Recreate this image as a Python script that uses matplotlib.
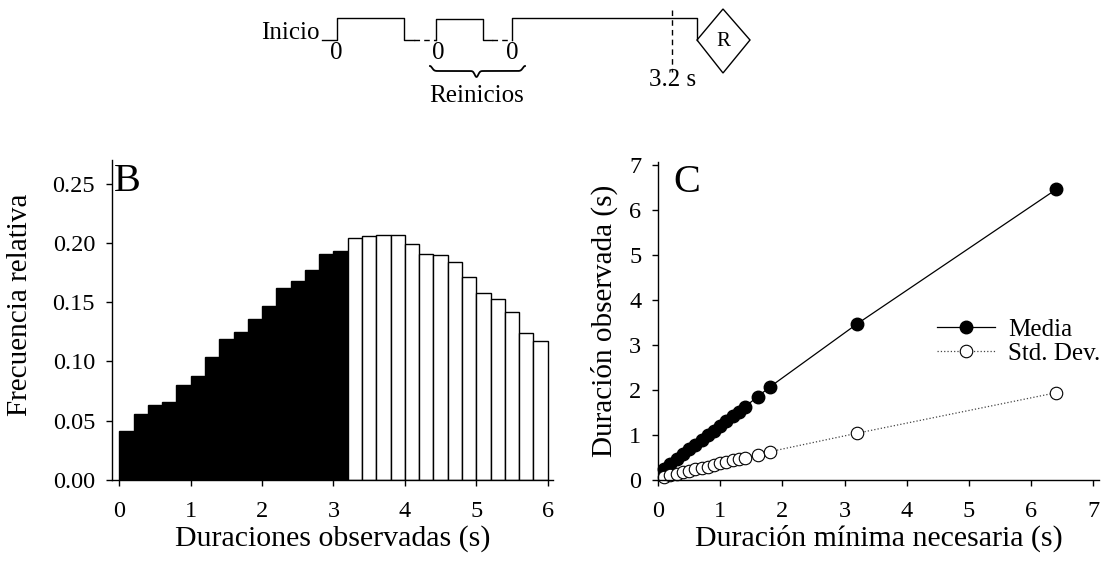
import numpy as np
import matplotlib
matplotlib.use("Agg")
import matplotlib.pyplot as plt
from matplotlib.patches import Polygon

plt.rcParams["font.family"] = ["Liberation Serif", "DejaVu Serif"]

# --- datos panel B (histograma, bins de 0.2 s) ---
bin_izq = [0.0, 0.2, 0.4, 0.6, 0.8, 1.0, 1.2, 1.4, 1.6, 1.8, 2.0, 2.2, 2.4, 2.6, 2.8, 3.0,
           3.2, 3.4, 3.6, 3.8, 4.0, 4.2, 4.4, 4.6, 4.8, 5.0, 5.2, 5.4, 5.6, 5.8]
frecuencia = [0.041, 0.056, 0.063, 0.066, 0.080, 0.088, 0.104, 0.119, 0.125, 0.136,
              0.147, 0.162, 0.168, 0.177, 0.191, 0.193,
              0.204, 0.206, 0.207, 0.207, 0.199, 0.191, 0.190, 0.184, 0.171, 0.158,
              0.153, 0.142, 0.124, 0.117]
umbral = 3.2

# --- datos panel C ---
dur_min = [0.1, 0.2, 0.3, 0.4, 0.5, 0.6, 0.7, 0.8, 0.9, 1.0, 1.1, 1.2, 1.3, 1.4,
           1.6, 1.8, 3.2, 6.4]
media = [0.25, 0.36, 0.47, 0.57, 0.68, 0.78, 0.89, 1.00, 1.10, 1.21, 1.31, 1.42, 1.52, 1.63,
         1.85, 2.07, 3.47, 6.46]
std_dev = [0.07, 0.11, 0.14, 0.17, 0.21, 0.24, 0.27, 0.30, 0.34, 0.37, 0.40, 0.44, 0.47, 0.50,
           0.56, 0.63, 1.04, 1.94]

W, H = 1101, 567
fig = plt.figure(figsize=(W / 100, H / 100), dpi=100)

def caja(x0, y0, x1, y1):
    # pixeles (arriba-izquierda) -> fraccion de figura
    return [x0 / W, 1 - y1 / H, (x1 - x0) / W, (y1 - y0) / H]

def estilo(ax):
    for s in ["top", "right"]:
        ax.spines[s].set_visible(False)
    for s in ["left", "bottom"]:
        ax.spines[s].set_linewidth(1.0)
    ax.tick_params(direction="out", length=4, width=1, labelsize=17.5)
    ax.tick_params(axis="x", pad=11)
    ax.tick_params(axis="y", pad=8)

# ---- esquema superior ----
esq = fig.add_axes([0, 0, 1, 1])
esq.set_xlim(0, W); esq.set_ylim(H, 0); esq.axis("off")
k = dict(color="black", lw=1)
bajo, alto = 40, 18
esq.plot([322, 337, 337, 404, 404, 414], [bajo, bajo, alto, alto, bajo, bajo], **k)
esq.plot([414, 436], [bajo, bajo], ls=(0, (4, 3)), **k)
esq.plot([436, 436, 483, 483, 492], [bajo, alto + 1, alto + 1, bajo, bajo], **k)
esq.plot([492, 512], [bajo, bajo], ls=(0, (4, 3)), **k)
esq.plot([512, 512, 697, 697], [bajo, alto, alto, bajo], **k)
esq.add_patch(Polygon([[697, 40], [723, 9], [750, 40], [723, 73]], closed=True,
                      fill=False, ec="black", lw=1))
esq.text(723, 42, "R", ha="center", va="center", fontsize=15)
esq.plot([672, 672], [10, 72], color="black", lw=1, ls=(0, (4, 3)))
esq.text(320, 33, "Inicio", ha="right", va="center", fontsize=18)
for xc in [336, 438, 512]:
    esq.text(xc, 53, "0", ha="center", va="center", fontsize=18)
esq.text(673, 80, "3.2 s", ha="center", va="center", fontsize=18)
# llave
bx = np.linspace(430, 525, 200)
tip = 476.5
yb = 71 - 5 * np.exp(-((bx - 430) / 3) ** 2) - 5 * np.exp(-((bx - 525) / 3) ** 2) \
     + 6 * np.exp(-((bx - tip) / 2.5) ** 2)
esq.plot(bx, yb, color="black", lw=1.3)
esq.text(tip, 96, "Reinicios", ha="center", va="center", fontsize=18)

# ---- panel B ----
axB = fig.add_axes(caja(111.7, 160, 553, 480))
colores = ["black" if x < umbral else "white" for x in bin_izq]
axB.bar(bin_izq, frecuencia, width=0.2, align="edge", color=colores,
        edgecolor="black", linewidth=1)
axB.set_xlim(-0.106, 6.074)
axB.set_ylim(0, 0.27)
axB.set_xticks(range(0, 7))
axB.set_yticks([0, 0.05, 0.10, 0.15, 0.20, 0.25])
axB.set_yticklabels(["0.00", "0.05", "0.10", "0.15", "0.20", "0.25"])
estilo(axB)
axB.set_xlabel("Duraciones observadas (s)", fontsize=21.5, labelpad=2)
axB.set_ylabel("Frecuencia relativa", fontsize=21, labelpad=10)
axB.yaxis.set_label_coords(-0.178, 0.547)
axB.text(0.005, 0.99, "B", transform=axB.transAxes, fontsize=29, va="top", ha="left")

# ---- panel C ----
axC = fig.add_axes(caja(658, 162, 1099, 480))
axC.plot(dur_min, media, color="black", lw=0.9, marker="o", ms=9,
         mfc="black", mec="black", label="Media", clip_on=False)
axC.plot(dur_min, std_dev, color="#444444", lw=0.9, ls=":", marker="o", ms=9,
         mfc="white", mec="black", mew=0.8, label="Std. Dev.", clip_on=False)
axC.set_xlim(0, 7.09)
axC.set_ylim(0, 7.07)
axC.set_xticks(range(0, 8))
axC.set_yticks(range(0, 8))
estilo(axC)
axC.set_xlabel("Duración mínima necesaria (s)", fontsize=21.5, labelpad=2)
axC.set_ylabel("Duración observada (s)", fontsize=21, labelpad=8)
axC.text(0.035, 0.995, "C", transform=axC.transAxes, fontsize=29, va="top", ha="left")
axC.legend(loc="center left", bbox_to_anchor=(0.633, 0.435), frameon=False,
           fontsize=18, handlelength=2.3, handletextpad=0.55, labelspacing=0.05,
           borderpad=0, borderaxespad=0)

fig.savefig("out.png", dpi=100)
